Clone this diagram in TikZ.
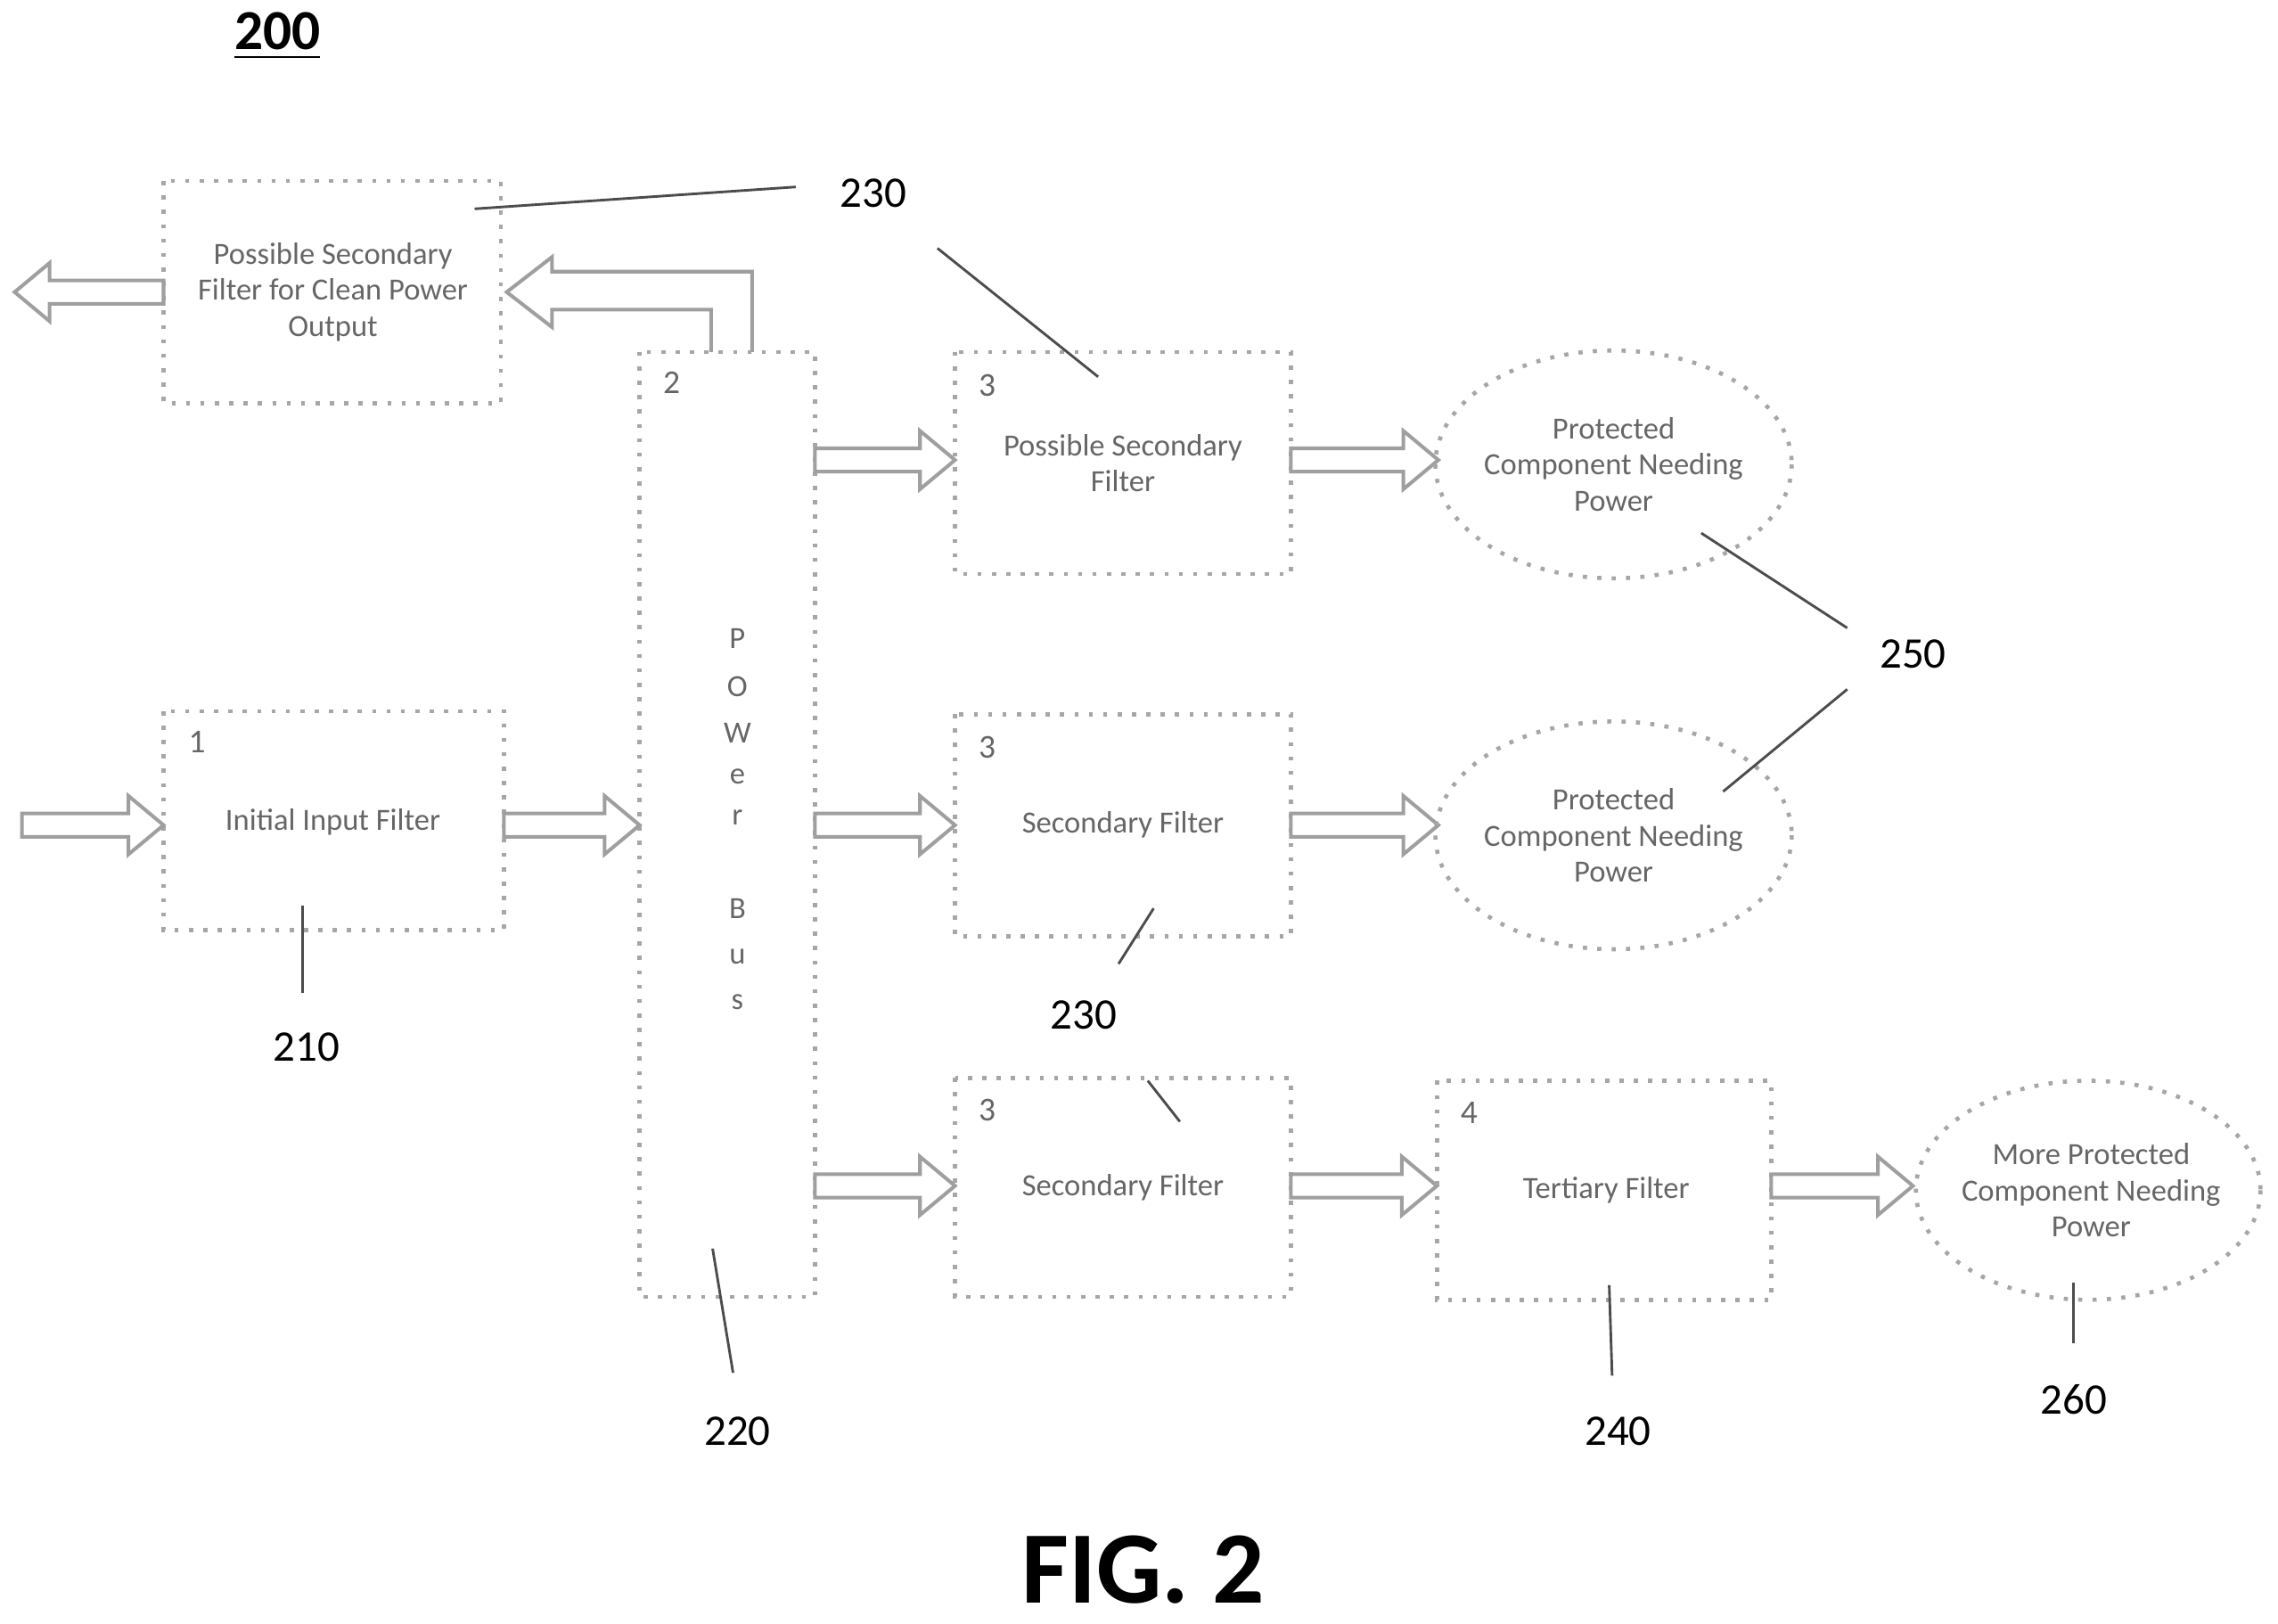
\documentclass[tikz,border=0pt]{standalone}
\usepackage{fontspec}
\setmainfont{Carlito}
\usetikzlibrary{shapes.geometric}
\begin{document}
\begin{tikzpicture}[x=0.01cm,y=-0.01cm,
 box/.style={draw=gray!70,line width=0.8pt,dotted},
 arr/.style={draw=gray!75,line width=0.7pt,fill=white},
 txt/.style={text=gray!80!black,font=\fontsize{6}{7}\selectfont,align=center},
 num/.style={text=gray!80!black,font=\fontsize{6.5}{7}\selectfont},
 lab/.style={font=\fontsize{8.5}{10}\selectfont},
 lead/.style={draw=black!70,line width=0.5pt}]
\useasboundingbox (0,0) rectangle (1560,1112);
\newcommand\harr[3]{\draw[arr] (#1,#3-8)--(#2-24,#3-8)--(#2-24,#3-20)--(#2,#3)--(#2-24,#3+20)--(#2-24,#3+8)--(#1,#3+8)--cycle;}
\newcommand\harrl[3]{\draw[arr] (#1,#3-8)--(#2+24,#3-8)--(#2+24,#3-20)--(#2,#3)--(#2+24,#3+20)--(#2+24,#3+8)--(#1,#3+8)--cycle;}
\node[font=\bfseries\fontsize{11}{12}\selectfont] (t200) at (190,25) {\underline{200}};
% top-left box
\draw[box] (112,124) rectangle (343,276);
\node[txt] (b0) at (228,200) {Possible Secondary\\Filter for Clean Power\\Output};
\harrl{112}{10}{200}
\draw[arr] (487,241)--(487,212)--(378,212)--(378,224)--(347,200)--(378,176)--(378,186)--(515,186)--(515,241);
% power bus
\draw[box] (438,241) rectangle (558,888);
\node[num] at (460,262) {2};
\foreach \c/\y in {P/437,O/470,W/502,e/532,r/560,B/622,u/655,s/686}
  \node[txt] at (505,\y) {\c};
% box 1
\draw[box] (112,487) rectangle (345,637);
\node[num] at (135,508) {1};
\node[txt] (b1) at (228,563) {Initial Input Filter};
\harr{15}{112}{565}
\harr{345}{438}{565}
% box 3a
\draw[box] (654,241) rectangle (884,393);
\node[num] at (676,264) {3};
\node[txt] at (769,317) {Possible Secondary\\Filter};
\harr{558}{654}{315}
\harr{884}{985}{315}
\draw[box] (1105,318) ellipse (122 and 78);
\node[txt] at (1105,318) {Protected\\Component Needing\\Power};
% box 3b
\draw[box] (654,489) rectangle (884,641);
\node[num] at (676,512) {3};
\node[txt] at (769,565) {Secondary Filter};
\harr{558}{654}{565}
\harr{884}{985}{565}
\draw[box] (1105,572) ellipse (122 and 78);
\node[txt] at (1105,572) {Protected\\Component Needing\\Power};
% box 3c
\draw[box] (654,738) rectangle (884,888);
\node[num] at (676,760) {3};
\node[txt] at (769,813) {Secondary Filter};
\harr{558}{654}{812}
\harr{884}{984}{812}
% box 4
\draw[box] (984,740) rectangle (1213,890);
\node[num] at (1006,762) {4};
\node[txt] at (1100,815) {Tertiary Filter};
\harr{1213}{1310}{812}
\draw[box] (1430,815) ellipse (118 and 75);
\node[txt] at (1432,815) {More Protected\\Component Needing\\Power};
% labels
\node[lab] at (598,132) {230};
\draw[lead] (325,143)--(545,128);
\draw[lead] (642,170)--(752,258);
\node[lab] at (1310,448) {250};
\draw[lead] (1165,365)--(1265,430);
\draw[lead] (1180,542)--(1265,472);
\node[lab] at (210,717) {210};
\draw[lead] (207,620)--(207,680);
\node[lab] at (742,695) {230};
\draw[lead] (766,660)--(790,622);
\draw[lead] (786,740)--(808,768);
\node[lab] at (505,980) {220};
\draw[lead] (488,855)--(502,940);
\node[lab] at (1108,980) {240};
\draw[lead] (1102,880)--(1104,942);
\node[lab] at (1420,958) {260};
\draw[lead] (1420,878)--(1420,920);
\node[font=\bfseries\fontsize{20}{22}\selectfont] at (783,1075) {FIG. 2};
\end{tikzpicture}
\end{document}
